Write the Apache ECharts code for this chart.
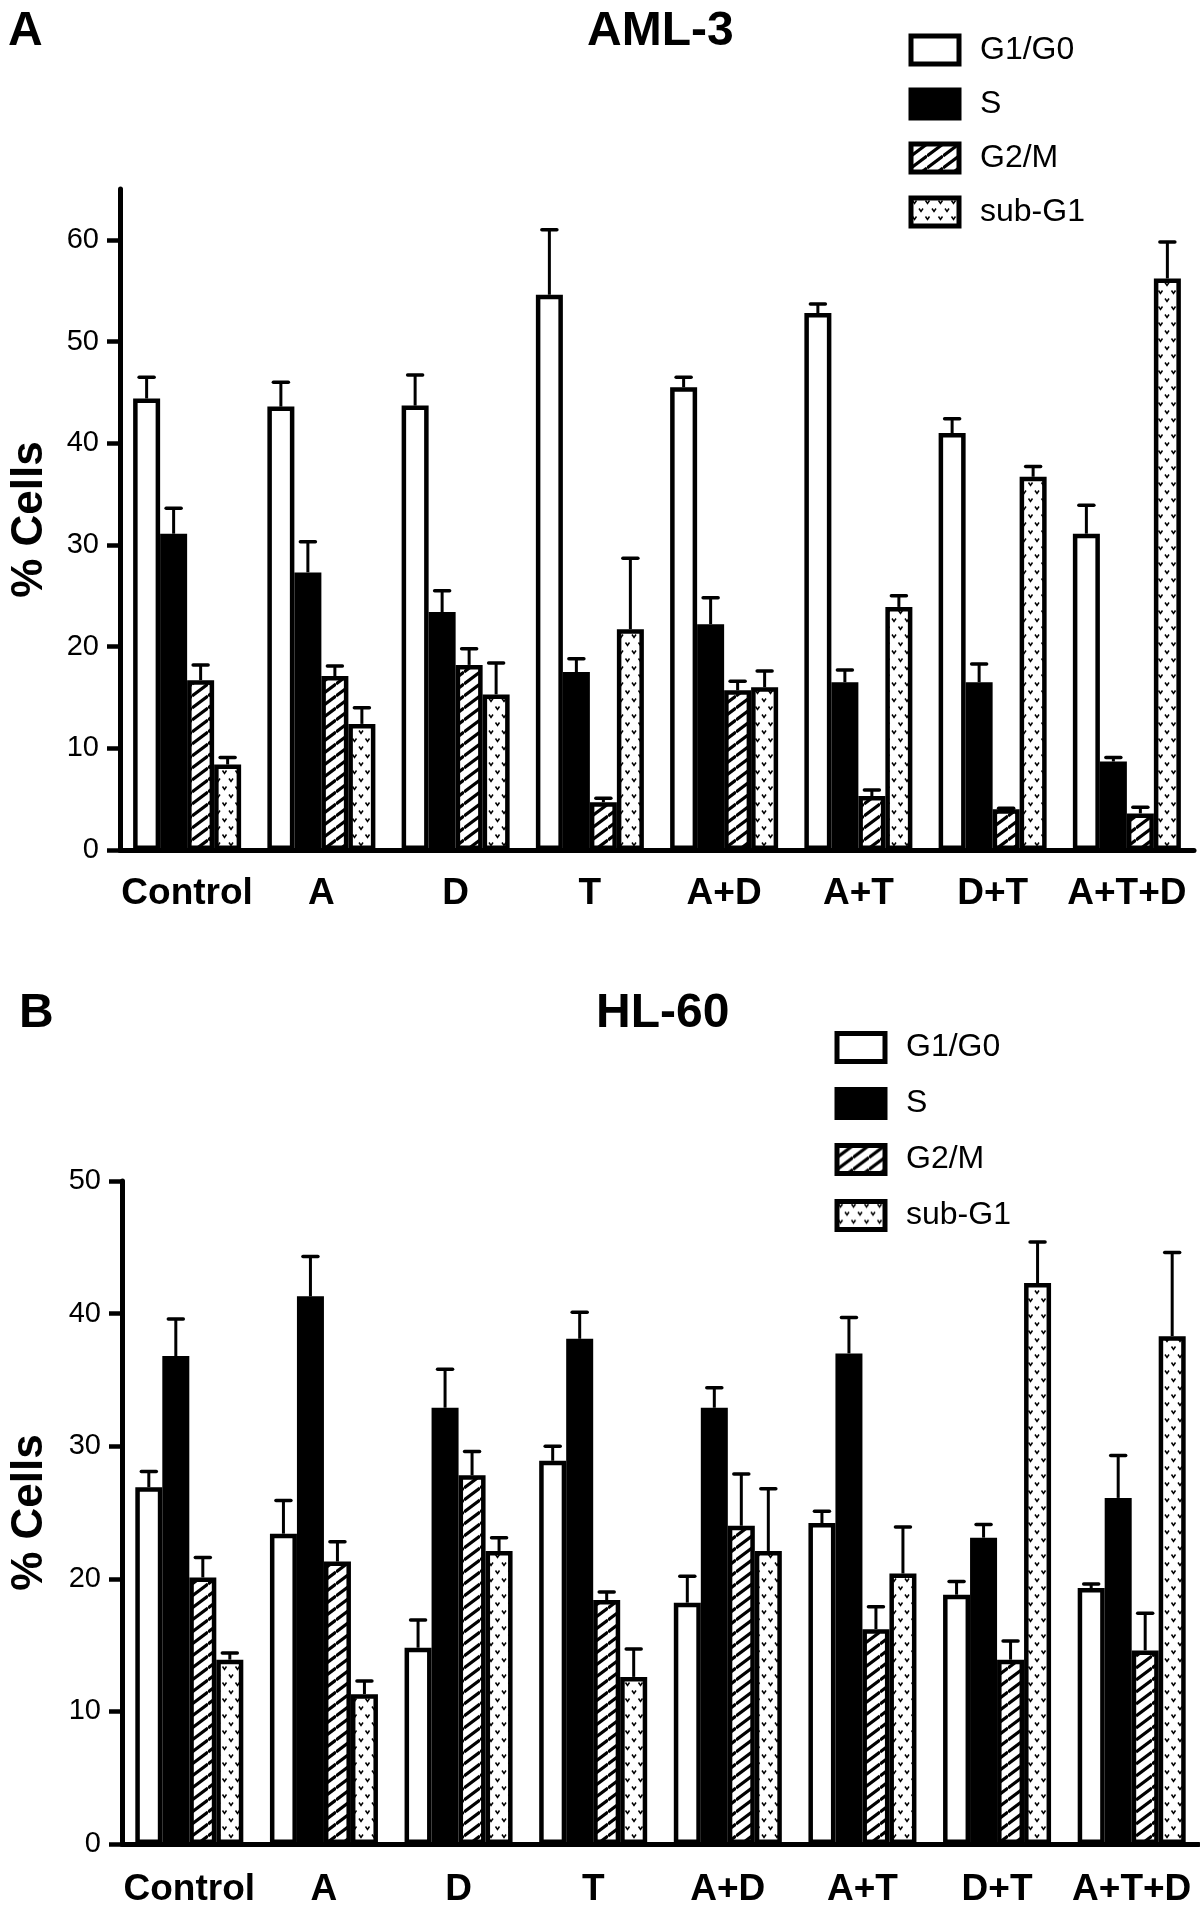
<!DOCTYPE html>
<html><head><meta charset="utf-8">
<script src="https://cdn.jsdelivr.net/npm/echarts@6/dist/echarts.min.js"></script>
<style>html,body{margin:0;padding:0;background:#fff}#c{width:1200px;height:1911px}</style>
</head><body><div id="c"></div>
<script>
// ---- data ----
const categories = ['Control', 'A', 'D', 'T', 'A+D', 'A+T', 'D+T', 'A+T+D'];
const phases = ['G1/G0', 'S', 'G2/M', 'sub-G1'];

const amlG1 = [44.4, 43.6, 43.7, 54.6, 45.5, 52.8, 41.0, 31.1];
const amlG1Err = [2.1, 2.4, 3.0, 6.4, 1.0, 0.9, 1.4, 2.8];
const amlS = [31.1, 27.3, 23.4, 17.5, 22.2, 16.5, 16.5, 8.7];
const amlSErr = [2.5, 3.0, 2.1, 1.3, 2.6, 1.2, 1.8, 0.4];
const amlG2M = [16.7, 17.1, 18.2, 4.7, 15.7, 5.3, 4.0, 3.6];
const amlG2MErr = [1.5, 1.0, 1.6, 0.4, 0.9, 0.6, 0.1, 0.6];
const amlSub = [8.4, 12.4, 15.3, 21.7, 16.0, 23.9, 36.7, 56.2];
const amlSubErr = [0.7, 1.6, 3.1, 7.0, 1.6, 1.1, 1.0, 3.6];

const hlG1 = [26.9, 23.4, 14.8, 28.9, 18.2, 24.2, 18.8, 19.3];
const hlG1Err = [1.2, 2.5, 2.1, 1.1, 2.0, 0.9, 1.0, 0.3];
const hlS = [36.8, 41.3, 32.9, 38.1, 32.9, 37.0, 23.1, 26.1];
const hlSErr = [2.8, 3.0, 2.9, 2.0, 1.5, 2.7, 1.0, 3.2];
const hlG2M = [20.1, 21.3, 27.8, 18.4, 24.0, 16.2, 13.9, 14.6];
const hlG2MErr = [1.5, 1.5, 1.8, 0.6, 3.9, 1.7, 1.4, 2.8];
const hlSub = [13.9, 11.3, 22.1, 12.6, 22.1, 20.4, 42.3, 38.3];
const hlSubErr = [0.5, 1.0, 1.0, 2.1, 4.7, 3.5, 3.1, 6.3];

const amlTicks = [0, 10, 20, 30, 40, 50, 60];

// ---- styling ----
const FONT = "'Liberation Sans', Arial, Helvetica, sans-serif";
const BW = 27;
const BORDER = 4.5;

function hatchPattern() {
  const c = document.createElement('canvas');
  c.width = 16; c.height = 12;
  const g = c.getContext('2d');
  g.fillStyle = '#fff'; g.fillRect(0, 0, 16, 12);
  g.strokeStyle = '#000'; g.lineWidth = 3.2;
  for (let n = 0; n < 3; n++) {
    g.beginPath(); g.moveTo(0, n * 12); g.lineTo(16, n * 12 - 12); g.stroke();
  }
  return c;
}
function dotPattern() {
  const c = document.createElement('canvas');
  c.width = 13; c.height = 16;
  const g = c.getContext('2d');
  g.fillStyle = '#fff'; g.fillRect(0, 0, 13, 16);
  g.strokeStyle = '#000'; g.lineWidth = 1.5;
  [[3.5, 4], [10, 12]].forEach(([x, y]) => {
    g.beginPath(); g.moveTo(x - 2, y - 1.5); g.lineTo(x, y + 1.5); g.lineTo(x + 2, y - 1.5); g.stroke();
  });
  return c;
}
const fills = ['#ffffff', '#000000', { image: hatchPattern(), repeat: 'repeat' }, { image: dotPattern(), repeat: 'repeat' }];

function errRender(idx) {
  return function (params, api) {
    const x = api.value(0), v = api.value(1), up = api.value(2);
    const p0 = api.coord([x, v]);
    const p1 = api.coord([x, up]);
    const cx = p0[0] + (idx - 1.5) * BW;
    return {
      type: 'group', children: [
        { type: 'line', shape: { x1: cx, y1: p0[1], x2: cx, y2: p1[1] }, style: { stroke: '#000', lineWidth: 3 } },
        { type: 'line', shape: { x1: cx - 7.5, y1: p1[1], x2: cx + 7.5, y2: p1[1] }, style: { stroke: '#000', lineWidth: 3.5, lineCap: 'round' } }
      ]
    };
  };
}

function buildSeries(gridIdx, vals, errs) {
  const out = [];
  vals.forEach((arr, i) => {
    out.push({
      type: 'bar', name: phases[i], xAxisIndex: gridIdx, yAxisIndex: gridIdx,
      data: arr, barWidth: BW, barGap: '0%',
      itemStyle: { color: fills[i], borderColor: '#000', borderWidth: BORDER },
      emphasis: { disabled: true }, z: 2
    });
  });
  vals.forEach((arr, i) => {
    out.push({
      type: 'custom', name: 'err' + gridIdx + '_' + i, xAxisIndex: gridIdx, yAxisIndex: gridIdx,
      data: arr.map((v, k) => [k, v, v + errs[i][k]]),
      renderItem: errRender(i), z: 3, silent: true
    });
  });
  return out;
}

function xAxisCfg(gridIdx, margin) {
  return {
    type: 'category', gridIndex: gridIdx, data: categories,
    axisLine: { lineStyle: { color: '#000', width: 5 } },
    axisTick: { alignWithLabel: true, length: 10, lineStyle: { color: '#000', width: 3.5 } },
    axisLabel: { interval: 0, margin: margin, color: '#000', fontSize: 37, fontWeight: 'bold', fontFamily: FONT },
    splitLine: { show: false }
  };
}

function legendCfg(left, top, gap) {
  return {
    data: phases, orient: 'vertical', left: left, top: top, padding: 0,
    itemWidth: 48, itemHeight: 28, itemGap: gap, icon: 'rect', selectedMode: false,
    itemStyle: { borderColor: '#000', borderWidth: 5 },
    formatter: '{a|{name}}',
    textStyle: {
      color: '#000', fontSize: 32, fontFamily: FONT, lineHeight: 28,
      rich: { a: { padding: [0, 0, 0, 16], fontSize: 32, lineHeight: 28, fontFamily: FONT, color: '#000' } }
    }
  };
}

const chart = echarts.init(document.getElementById('c'), null, { renderer: 'canvas' });
chart.setOption({
  backgroundColor: '#fff',
  animation: false,
  title: [
    { text: 'A', left: 3, top: 3, textStyle: { fontSize: 48, fontWeight: 'bold', color: '#000', fontFamily: FONT } },
    { text: 'AML-3', left: 582, top: 3, textStyle: { fontSize: 48, fontWeight: 'bold', color: '#000', fontFamily: FONT } },
    { text: 'B', left: 14, top: 985, textStyle: { fontSize: 48, fontWeight: 'bold', color: '#000', fontFamily: FONT } },
    { text: 'HL-60', left: 591, top: 985, textStyle: { fontSize: 48, fontWeight: 'bold', color: '#000', fontFamily: FONT } }
  ],
  legend: [legendCfg(908.5, 33.5, 21), legendCfg(834.5, 1031, 23)],
  grid: [
    { left: 113, width: 1081, top: 189, height: 661 },
    { left: 116.5, width: 1082.5, top: 1181, height: 663 }
  ],
  xAxis: [xAxisCfg(0, 25), xAxisCfg(1, 27)],
  yAxis: [
    {
      type: 'value', gridIndex: 0, min: 0, max: 65,
      name: '% Cells', nameLocation: 'middle', nameGap: 68,
      nameTextStyle: { fontSize: 44, fontWeight: 'bold', color: '#000', fontFamily: FONT },
      axisLine: { show: true, lineStyle: { color: '#000', width: 5 } },
      axisTick: { show: true, length: 13, customValues: amlTicks, lineStyle: { color: '#000', width: 4.5 } },
      axisLabel: { customValues: amlTicks, margin: 21, color: '#000', fontSize: 29, fontFamily: FONT },
      splitLine: { show: false }
    },
    {
      type: 'value', gridIndex: 1, min: 0, max: 50, interval: 10,
      name: '% Cells', nameLocation: 'middle', nameGap: 70,
      nameTextStyle: { fontSize: 44, fontWeight: 'bold', color: '#000', fontFamily: FONT },
      axisLine: { show: true, lineStyle: { color: '#000', width: 5 } },
      axisTick: { show: true, length: 13, lineStyle: { color: '#000', width: 4.5 } },
      axisLabel: { margin: 21, color: '#000', fontSize: 29, fontFamily: FONT },
      splitLine: { show: false }
    }
  ],
  series: [].concat(
    buildSeries(0, [amlG1, amlS, amlG2M, amlSub], [amlG1Err, amlSErr, amlG2MErr, amlSubErr]),
    buildSeries(1, [hlG1, hlS, hlG2M, hlSub], [hlG1Err, hlSErr, hlG2MErr, hlSubErr])
  )
});
</script>
</body></html>
